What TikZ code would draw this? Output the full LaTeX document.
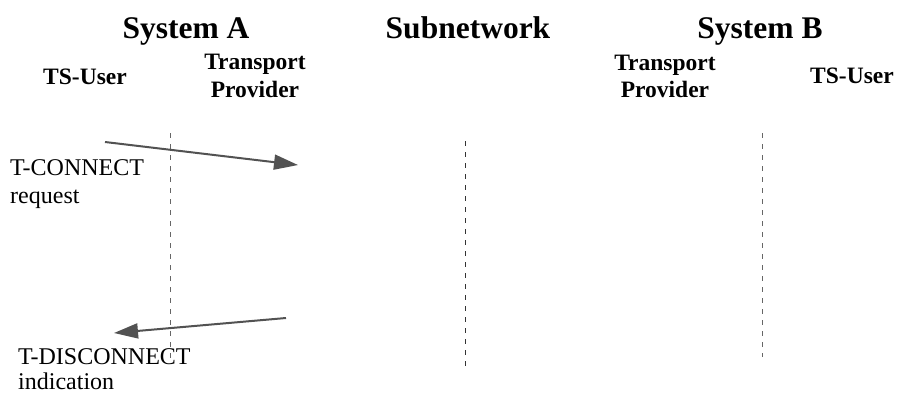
\documentclass[tikz,border=0pt]{standalone}
\usepackage{fontspec}
\setmainfont{Liberation Serif}
\usetikzlibrary{arrows.meta}
\begin{document}
\begin{tikzpicture}[x=1pt,y=-1pt,
  title/.style={font=\fontsize{31.5}{36}\selectfont\bfseries, inner sep=0pt, anchor=base},
  head/.style={font=\fontsize{23.5}{28}\selectfont\bfseries, inner sep=0pt, anchor=base},
  body/.style={font=\fontsize{24}{28}\selectfont, inner sep=0pt, anchor=base west},
  life/.style={draw=black!60, line width=1pt, dash pattern=on 5pt off 6pt},
  msg/.style={draw=black!68, line width=2pt, -{Triangle[length=24pt,width=15pt]}}]
\path[use as bounding box] (0,0) rectangle (898,394);
% titles
\node[title] (sysA) at (186,38) {System A};
\node[title] (subnet) at (468,38) {Subnetwork};
\node[title] (sysB) at (760,38) {System B};
% column heads
\node[head] (userA) at (85,84) {TS-User};
\node[head] (tpA1) at (255,69) {Transport};
\node[head] (tpA2) at (255,97) {Provider};
\node[head] (tpB1) at (665,70) {Transport};
\node[head] (tpB2) at (665,97) {Provider};
\node[head] (userB) at (852,83) {TS-User};
% lifelines
\coordinate (l1t) at (170,133); \coordinate (l1b) at (170,360);
\coordinate (l2t) at (465,141); \coordinate (l2b) at (465,366);
\coordinate (l3t) at (762,133); \coordinate (l3b) at (762,357);
\draw[life] (l1t) -- (l1b);
\draw[life, draw=black!80] (l2t) -- (l2b);
\draw[life] (l3t) -- (l3b);
% messages
\coordinate (c1s) at (105,142); \coordinate (c1e) at (298,165);
\coordinate (d1s) at (286,318); \coordinate (d1e) at (114,333);
\draw[msg] (c1s) -- (c1e);
\draw[msg] (d1s) -- (d1e);
% labels
\node[body] (conn1) at (10,175) {T-CONNECT};
\node[body] (conn2) at (10,203) {request};
\node[body] (disc1) at (18,364) {T-DISCONNECT};
\node[body] (disc2) at (18,389) {indication};
\end{tikzpicture}
\end{document}
